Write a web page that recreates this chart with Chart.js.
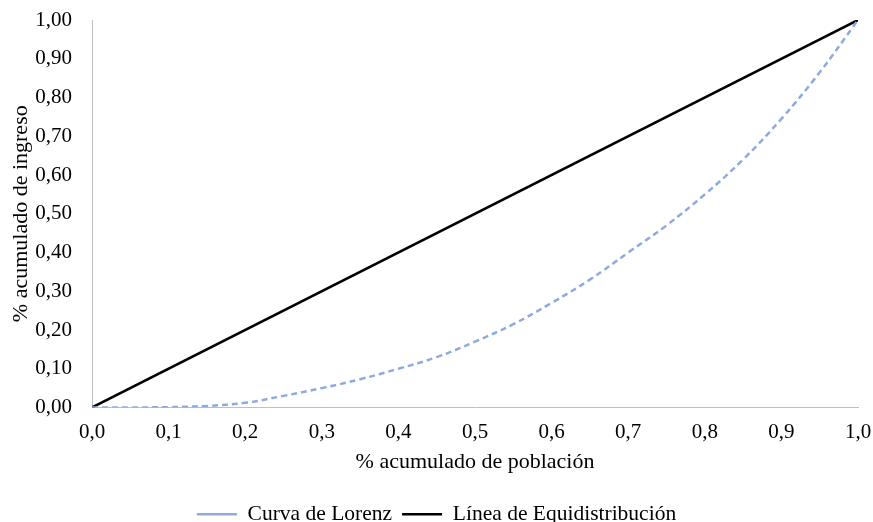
<!DOCTYPE html>
<html>
<head>
<meta charset="utf-8">
<script src="https://cdn.jsdelivr.net/npm/chart.js@4"></script>
<style>
  html, body { margin: 0; padding: 0; background: #fff; }
  #wrap { width: 873px; height: 522px; }
</style>
</head>
<body>
<div id="wrap"><canvas id="lorenzChart"></canvas></div>
<script>
// cumulative population share
const poblacion = [0, 0.05, 0.1, 0.15, 0.2, 0.25, 0.3, 0.35, 0.4, 0.45, 0.5, 0.55, 0.6, 0.65, 0.7, 0.75, 0.8, 0.85, 0.9, 0.95, 1.0];
// cumulative income share (Lorenz curve)
const ingresoLorenz = [0, 0, 0.001, 0.004, 0.012, 0.03, 0.05, 0.073, 0.1, 0.13, 0.17, 0.215, 0.27, 0.33, 0.4, 0.47, 0.55, 0.64, 0.745, 0.865, 1.0];
// equality line
const equiX = [0, 1];
const equiY = [0, 1];

const serif = "'Liberation Serif', 'Times New Roman', serif";

const ctx = document.getElementById("lorenzChart").getContext("2d");
new Chart(ctx, {
  type: 'scatter',
  data: {
    datasets: [
      {
        label: "Curva de Lorenz",
        data: poblacion.map((x, i) => ({ x: x, y: ingresoLorenz[i] })),
        showLine: true,
        borderColor: "#8faadc",
        borderWidth: 2.5,
        borderDash: [6, 4],
        pointRadius: 0,
        tension: 0.4
      },
      {
        label: "Línea de Equidistribución",
        data: equiX.map((x, i) => ({ x: x, y: equiY[i] })),
        showLine: true,
        borderColor: "#000000",
        borderWidth: 2.5,
        pointRadius: 0
      }
    ]
  },
  options: {
    responsive: true,
    maintainAspectRatio: false,
    animation: false,
    layout: { padding: { top: 0, right: 0, left: 0, bottom: -13 } },
    scales: {
      x: {
        type: 'linear',
        min: 0, max: 1,
        grid: { display: false, drawTicks: false },
        border: { display: true, color: '#bfbfbf', width: 1 },
        afterFit: s => { s.height = 86; s.paddingRight = 15; },
        ticks: {
          stepSize: 0.1,
          color: '#000',
          font: { family: serif, size: 21 },
          padding: 12,
          maxRotation: 0,
          callback: v => v.toFixed(1).replace('.', ',')
        },
        title: {
          display: true,
          text: '% acumulado de población',
          color: '#000',
          font: { family: serif, size: 22 },
          padding: { top: 0, bottom: 18 }
        }
      },
      y: {
        min: 0, max: 1,
        grid: { display: false, drawTicks: false },
        border: { display: true, color: '#bfbfbf', width: 1 },
        afterFit: s => { s.width = 92; s.paddingTop = 20; },
        ticks: {
          stepSize: 0.1,
          color: '#000',
          font: { family: serif, size: 21 },
          padding: 20,
          callback: v => v.toFixed(2).replace('.', ',')
        },
        title: {
          display: true,
          text: '% acumulado de ingreso',
          color: '#000',
          font: { family: serif, size: 22 },
          padding: { top: 8, bottom: 0 }
        }
      }
    },
    plugins: {
      tooltip: { enabled: false },
      legend: {
        position: 'bottom',
        labels: {
          color: '#000',
          font: { family: serif, size: 21.5 },
          boxWidth: 40,
          boxHeight: 0,
          padding: 10
        }
      }
    }
  }
});
</script>
</body>
</html>
